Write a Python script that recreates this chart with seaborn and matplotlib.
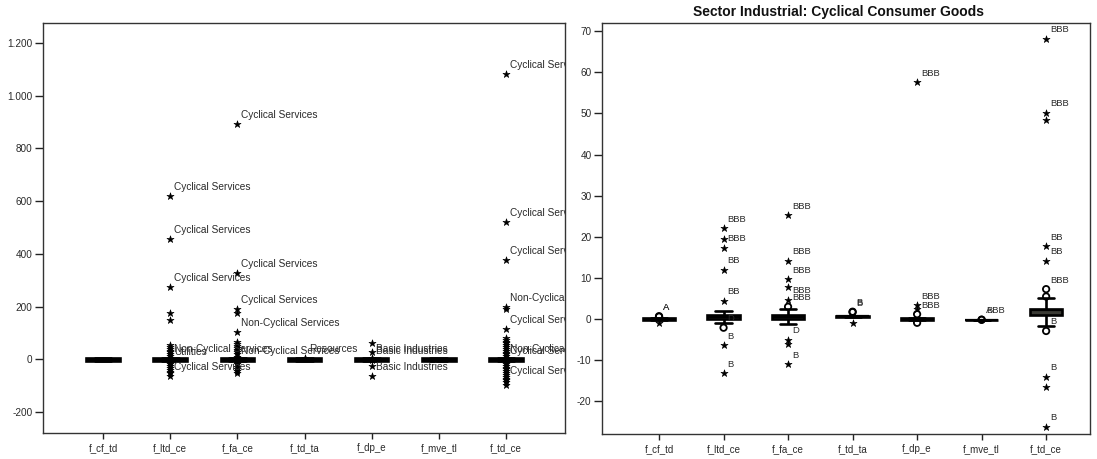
import numpy as np
import pandas as pd
import matplotlib
matplotlib.use("Agg")
import matplotlib.pyplot as plt
import seaborn as sns
from matplotlib.ticker import FuncFormatter, FixedLocator

# ---------------- data ----------------
categories = ["f_cf_td", "f_ltd_ce", "f_fa_ce", "f_td_ta", "f_dp_e", "f_mve_tl", "f_td_ce"]

# Left panel (all sectors): box statistics
all_q1 = [-6, -6, -6, -6, -6, -6, -6]
all_med = [0, 0, 0, 0, 0, 0, 0]
all_q3 = [6, 6, 6, 6, 6, 6, 6]
all_wlo = [-6, -6, -6, -6, -6, -6, -6]
all_whi = [6, 6, 6, 6, 6, 6, 6]

# Left panel extreme values (value, case label)
all_stars = {
    "f_ltd_ce": [(621, "Cyclical Services"), (458, "Cyclical Services"), (275, "Cyclical Services"),
                 (177, ""), (150, ""), (54, ""), (47, ""), (40, ""), (33, ""), (26, ""), (19, ""),
                 (12, ""), (5, "Non-Cyclical Services"), (-5, "Utilities"), (-12, ""), (-19, ""),
                 (-26, ""), (-33, ""), (-40, ""), (-47, ""), (-54, ""), (-64, "Cyclical Services")],
    "f_fa_ce": [(891, "Cyclical Services"), (328, "Cyclical Services"), (189, "Cyclical Services"),
                (176, ""), (104, "Non-Cyclical Services"), (67, ""), (58, ""), (50, ""), (42, ""),
                (34, ""), (26, ""), (18, ""), (10, ""), (-3, "Non-Cyclical Services"), (-12, ""),
                (-20, ""), (-28, ""), (-36, ""), (-44, ""), (-52, "")],
    "f_td_ta": [(5, "Resources")],
    "f_dp_e": [(61, ""), (26, ""), (3, "Basic Industries"), (-2, "Basic Industries"), (-25, ""),
               (-65, "Basic Industries")],
    "f_td_ce": [(1082, "Cyclical Services"), (520, "Cyclical Services"), (378, "Cyclical Services"),
                (199, "Non-Cyclical Services"), (192, ""), (113, "Cyclical Services"), (81, ""),
                (74, ""), (67, ""), (60, ""), (53, ""), (46, ""), (39, ""), (32, ""), (25, ""),
                (18, ""), (11, ""), (4, "Non-Cyclical Services"), (-4, "Cyclical Services"),
                (-11, ""), (-18, ""), (-25, ""), (-32, ""), (-39, ""), (-46, ""), (-53, ""),
                (-60, ""), (-67, ""), (-74, ""), (-80, "Cyclical Services"), (-88, ""), (-98, "")],
}
all_circles = {}

# Right panel (Cyclical Consumer Goods): box statistics
cg_q1 = [-0.3, -0.05, -0.05, 0.35, -0.2, -0.4, 0.85]
cg_med = [0.0, 0.4, 0.4, 0.6, 0.0, -0.3, 2.1]
cg_q3 = [0.15, 1.0, 0.8, 0.75, 0.15, -0.2, 2.3]
cg_wlo = [-0.3, -1.0, -1.3, 0.35, -0.2, -0.4, -1.7]
cg_whi = [0.15, 1.95, 2.3, 0.75, 0.15, -0.2, 5.0]

cg_stars = {
    "f_cf_td": [(-1.1, "")],
    "f_ltd_ce": [(22.0, "BBB"), (19.4, ""), (17.3, "BBB"), (11.9, "BB"), (4.4, "BB"),
                 (-6.5, "B"), (-13.3, "B")],
    "f_fa_ce": [(25.2, "BBB"), (14.1, "BBB"), (9.6, "BBB"), (7.8, ""), (4.6, "BBB"),
                (-5.2, "D"), (-6.2, ""), (-11.1, "B")],
    "f_td_ta": [(-1.0, "")],
    "f_dp_e": [(57.6, "BBB"), (3.3, "BBB"), (2.4, "")],
    "f_td_ce": [(68.2, "BBB"), (50.2, "BBB"), (48.5, ""), (17.6, "BB"), (14.1, "BB"),
                (-14.1, "B"), (-16.7, ""), (-26.3, "B")],
}
cg_circles = {
    "f_cf_td": [(0.6, "A"), (0.5, "A")],
    "f_ltd_ce": [(-2.2, "D")],
    "f_fa_ce": [(2.9, "BBB")],
    "f_td_ta": [(1.7, "B"), (1.6, "B")],
    "f_dp_e": [(1.1, "BBB"), (-1.0, "")],
    "f_mve_tl": [(-0.25, "A"), (-0.25, "BBB")],
    "f_td_ce": [(7.2, "BBB"), (5.4, ""), (-3.0, "B")],
}

left_yticks = [-200, 0, 200, 400, 600, 800, 1000, 1200]
right_yticks = [-20, -10, 0, 10, 20, 30, 40, 50, 60, 70]
right_title = "Sector Industrial: Cyclical Consumer Goods"

# ---------------- style ----------------
sns.set_style("ticks")
plt.rcParams["font.family"] = ["Liberation Sans", "DejaVu Sans"]
TXT = "#2a2a2a"


def box_table(q1, med, q3, wlo, whi):
    rows = []
    for c, a, b, m, d, e in zip(categories, wlo, q1, med, q3, whi):
        for v in (a, b, m, d, e):
            rows.append({"var": c, "val": v})
    return pd.DataFrame(rows)


def point_table(points):
    rows = []
    for c, lst in points.items():
        for v, lab in lst:
            rows.append({"var": c, "val": v, "lab": lab})
    return pd.DataFrame(rows, columns=["var", "val", "lab"])


def draw_panel(ax, q1, med, q3, wlo, whi, stars, circles, ylim, xlim, yticks,
               fc, medc, lab_fs, yfmt):
    df = box_table(q1, med, q3, wlo, whi)
    sns.boxplot(data=df, x="var", y="val", order=categories, whis=(0, 100),
                width=0.5, color=fc, saturation=1, linecolor="black", linewidth=1.9,
                showfliers=False, medianprops={"color": medc, "linewidth": 1.6},
                ax=ax)
    ds = point_table(stars)
    if len(ds):
        sns.stripplot(data=ds, x="var", y="val", order=categories, jitter=False,
                      marker="*", color="black", size=5.4, edgecolor="black",
                      linewidth=0.4, zorder=4, ax=ax)
    dc = point_table(circles)
    if len(dc):
        sns.stripplot(data=dc, x="var", y="val", order=categories, jitter=False,
                      marker="o", color="black", facecolors="none", edgecolor="black",
                      linewidth=1.3, size=4.6, zorder=4, ax=ax)
    for d in (ds, dc):
        for _, r in d.iterrows():
            if r["lab"]:
                ax.annotate(r["lab"], xy=(categories.index(r["var"]), r["val"]),
                            xytext=(3, 6.5), textcoords="offset points",
                            ha="left", va="center", fontsize=lab_fs, color=TXT,
                            annotation_clip=False, clip_on=True, zorder=5)
    ax.set_xlim(*xlim)
    ax.set_ylim(*ylim)
    ax.yaxis.set_major_locator(FixedLocator(yticks))
    ax.yaxis.set_major_formatter(FuncFormatter(yfmt))
    ax.set_xlabel("")
    ax.set_ylabel("")
    ax.tick_params(axis="x", length=4, width=1, color="#222", pad=3, labelsize=7,
                   labelcolor=TXT)
    ax.tick_params(axis="y", length=6, width=1, color="#222", pad=1.5, labelsize=7.2,
                   labelcolor=TXT)
    for sp in ax.spines.values():
        sp.set_visible(True)
        sp.set_color("#333333")
        sp.set_linewidth(1.0)


fig = plt.figure(figsize=(10.97, 4.59), dpi=100)
axL = fig.add_axes([43 / 1097, 26 / 459, 522 / 1097, 410 / 459])
axR = fig.add_axes([602 / 1097, 25 / 459, 488 / 1097, 411 / 459])

draw_panel(axL, all_q1, all_med, all_q3, all_wlo, all_whi, all_stars, all_circles,
           ylim=(-280, 1276), xlim=(-0.893, 6.878), yticks=left_yticks,
           fc="black", medc="black", lab_fs=7.3,
           yfmt=lambda v, p: f"{v:,.0f}".replace(",", "."))
draw_panel(axR, cg_q1, cg_med, cg_q3, cg_wlo, cg_whi, cg_stars, cg_circles,
           ylim=(-28.1, 72.05), xlim=(-0.884, 6.68), yticks=right_yticks,
           fc="#3a3a34", medc="black", lab_fs=6.8,
           yfmt=lambda v, p: f"{v:.0f}")
axR.set_title(right_title, fontsize=10, fontweight="bold", color="#111", x=0.484, pad=5)

fig.savefig("out.png", dpi=100)
